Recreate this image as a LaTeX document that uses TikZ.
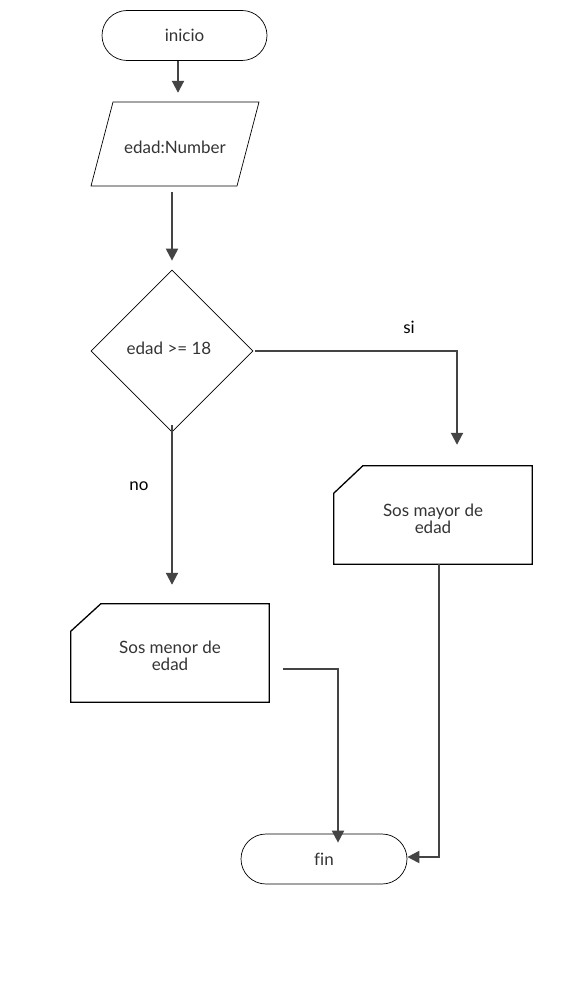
\documentclass[tikz,border=0pt]{standalone}
\usepackage{fontspec}
\setmainfont{Lato}[Ligatures=NoCommon]
\usetikzlibrary{shapes.geometric,arrows.meta}
\definecolor{txt}{HTML}{333333}
\definecolor{conn}{HTML}{444444}
\begin{document}
\begin{tikzpicture}[x=1pt,y=-1pt,
  every node/.style={font=\fontsize{17}{19}\selectfont, text=txt, align=center, inner sep=0pt},
  term/.style={draw=black, line width=0.7pt, rounded corners=25pt, minimum width=165pt, minimum height=50pt},
  box/.style={minimum width=198pt, minimum height=98pt},
  shp/.style={draw=black, line width=0.7pt},
  cardline/.style={draw=black, line width=1.3pt},
  conn/.style={draw=conn, line width=2pt, -{Triangle[length=12pt,width=12pt]}},
  lbl/.style={font=\fontsize{17}{19}\selectfont, text=black}
]
\useasboundingbox (0,0) rectangle (584,995);
\node[term] (ini) at (184.5,35.5) {inicio};
\node[minimum width=168pt, minimum height=84pt] (inp) at (175,144) {};
\draw[shp] (113,102) -- (259,102) -- (237,186) -- (91,186) -- cycle;
\node at (175,147) {edad:Number};
\node[diamond, shp, minimum width=162pt, minimum height=162pt, aspect=1] (dec) at (172,351) {};
\node at (169,348) {edad >= 18};
\node[box] (may) at (433,515) {};
\draw[cardline] (may.north west) ++(29,0) -- (may.north east) -- (may.south east) -- (may.south west) -- ++(0,-71) -- cycle;
\node at (433,519) {Sos mayor de\\[-2pt]edad};
\node[box] (men) at (170,653) {};
\draw[cardline] (men.north west) ++(30,0) -- (men.north east) -- (men.south east) -- (men.south west) -- ++(0,-71) -- cycle;
\node at (170,656) {Sos menor de\\[-2pt]edad};
\node[term, minimum width=166pt] (fin) at (324,859) {fin};
\coordinate (menout) at (283,669);
\coordinate (mayout) at (439,564);

\draw[conn, shorten >=9pt] (ini.south -| 178,0) -- (inp.north -| 178,0);
\draw[conn, shorten <=6pt, shorten >=9pt] (inp.south -| 172,0) -- (dec.north);
\draw[conn, shorten <=2pt, shorten >=21pt] (dec.east) -| (457,0 |- may.north);
\draw[conn, shorten <=-7pt, shorten >=19pt] (dec.south) -- (men.north -| 172,0);
\draw[conn, shorten >=-9pt] (menout) -| (fin.north -| 338,0);
\draw[conn] (mayout) |- (fin.east |- 0,857);
\node[lbl] (si) at (409,327) {si};
\node[lbl] (no) at (139,486) {no};
\end{tikzpicture}
\end{document}
